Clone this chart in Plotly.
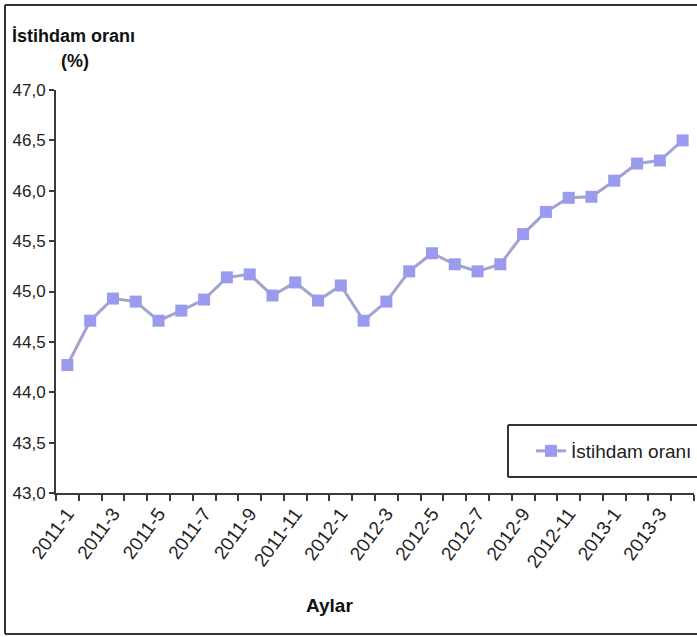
import plotly.graph_objects as go

# Monthly employment rate, Jan 2011 - Apr 2013
months = [
    "2011-1", "2011-2", "2011-3", "2011-4", "2011-5", "2011-6", "2011-7",
    "2011-8", "2011-9", "2011-10", "2011-11", "2011-12",
    "2012-1", "2012-2", "2012-3", "2012-4", "2012-5", "2012-6", "2012-7",
    "2012-8", "2012-9", "2012-10", "2012-11", "2012-12",
    "2013-1", "2013-2", "2013-3", "2013-4",
]
istihdam_orani = [
    44.27, 44.71, 44.93, 44.90, 44.71, 44.81, 44.92, 45.14, 45.17, 44.96,
    45.09, 44.91, 45.06, 44.71, 44.90, 45.20, 45.38, 45.27, 45.20, 45.27,
    45.57, 45.79, 45.93, 45.94, 46.10, 46.27, 46.30, 46.50,
]
# only every other month is labelled on the axis
tick_labels = [m if i % 2 == 0 else "" for i, m in enumerate(months)]
y_ticks = [43.0, 43.5, 44.0, 44.5, 45.0, 45.5, 46.0, 46.5, 47.0]

FONT = "Liberation Sans Narrow, Arial Narrow, Liberation Sans, Arial, sans-serif"
AXIS = "#3a3a3a"

# plot-area pixel geometry, used to place frame, legend box and titles
L, R, T, B = 56, 3, 90, 144
W, H = 697, 637
PW, PH = W - L - R, H - T - B


def px(x):
    return (x - L) / PW


def py(y):
    return (H - B - y) / PH


fig = go.Figure()
fig.add_trace(go.Scatter(
    x=months,
    y=istihdam_orani,
    mode="lines+markers",
    name="İstihdam oranı",
    line=dict(color="#a3a3cf", width=3),
    marker=dict(symbol="square", size=12, color="#9a9aee",
                line=dict(width=0)),
))

fig.update_layout(
    width=W,
    height=H,
    margin=dict(l=L, r=R, t=T, b=B, autoexpand=False),
    paper_bgcolor="white",
    plot_bgcolor="white",
    separators=",.",
    font=dict(family=FONT, size=17, color="#222222"),
    showlegend=True,
    legend=dict(
        x=px(531), y=py(451), xanchor="left", yanchor="middle",
        bgcolor="rgba(0,0,0,0)", borderwidth=0,
        font=dict(family=FONT, size=19, color="#222222"),
        itemwidth=30,
    ),
    xaxis=dict(
        type="category",
        tickmode="array",
        tickvals=months,
        ticktext=tick_labels,
        tickson="boundaries",
        ticks="outside",
        ticklen=6,
        tickwidth=2,
        tickcolor=AXIS,
        tickangle=-54,
        tickfont=dict(family=FONT, size=19, color="#222222"),
        showline=True,
        linecolor=AXIS,
        linewidth=2,
        showgrid=False,
        zeroline=False,
        range=[-0.5, len(months) - 0.5],
    ),
    yaxis=dict(
        range=[43, 47],
        tickmode="array",
        tickvals=y_ticks,
        tickformat=".1f",
        ticks="outside",
        ticklen=5,
        tickwidth=2,
        tickcolor=AXIS,
        tickfont=dict(family=FONT, size=17, color="#222222"),
        showline=True,
        linecolor=AXIS,
        linewidth=2,
        showgrid=False,
        zeroline=False,
    ),
)

FRAME = dict(color="#333333", width=2)
# outer chart frame: left, top and bottom edges (the right side runs off the page)
for x0, y0, x1, y1 in [(5, 5, 5, 634), (5, 5, W, 5), (5, 634, W, 634)]:
    fig.add_shape(type="line", xref="paper", yref="paper",
                  x0=px(x0), y0=py(y0), x1=px(x1), y1=py(y1),
                  line=FRAME, layer="below")
# legend box, also open on the right
fig.add_shape(type="rect", xref="paper", yref="paper",
              x0=px(508), x1=px(W), y0=py(477), y1=py(425),
              fillcolor="white", line=dict(width=0), layer="below")
for x0, y0, x1, y1 in [(508, 425, 508, 477), (508, 425, W, 425),
                       (508, 477, W, 477)]:
    fig.add_shape(type="line", xref="paper", yref="paper",
                  x0=px(x0), y0=py(y0), x1=px(x1), y1=py(y1),
                  line=FRAME, layer="below")

# axis titles
fig.add_annotation(text="<b>İstihdam oranı</b>", xref="paper", yref="paper",
                   x=px(73), y=py(36), showarrow=False,
                   xanchor="center", yanchor="middle",
                   font=dict(family=FONT, size=18, color="#111111"))
fig.add_annotation(text="<b>(%)</b>", xref="paper", yref="paper",
                   x=px(75), y=py(61), showarrow=False,
                   xanchor="center", yanchor="middle",
                   font=dict(family=FONT, size=18, color="#111111"))
fig.add_annotation(text="<b>Aylar</b>", xref="paper", yref="paper",
                   x=px(329), y=py(605), showarrow=False,
                   xanchor="center", yanchor="middle",
                   font=dict(family=FONT, size=19, color="#111111"))

fig.write_html("out.html")
